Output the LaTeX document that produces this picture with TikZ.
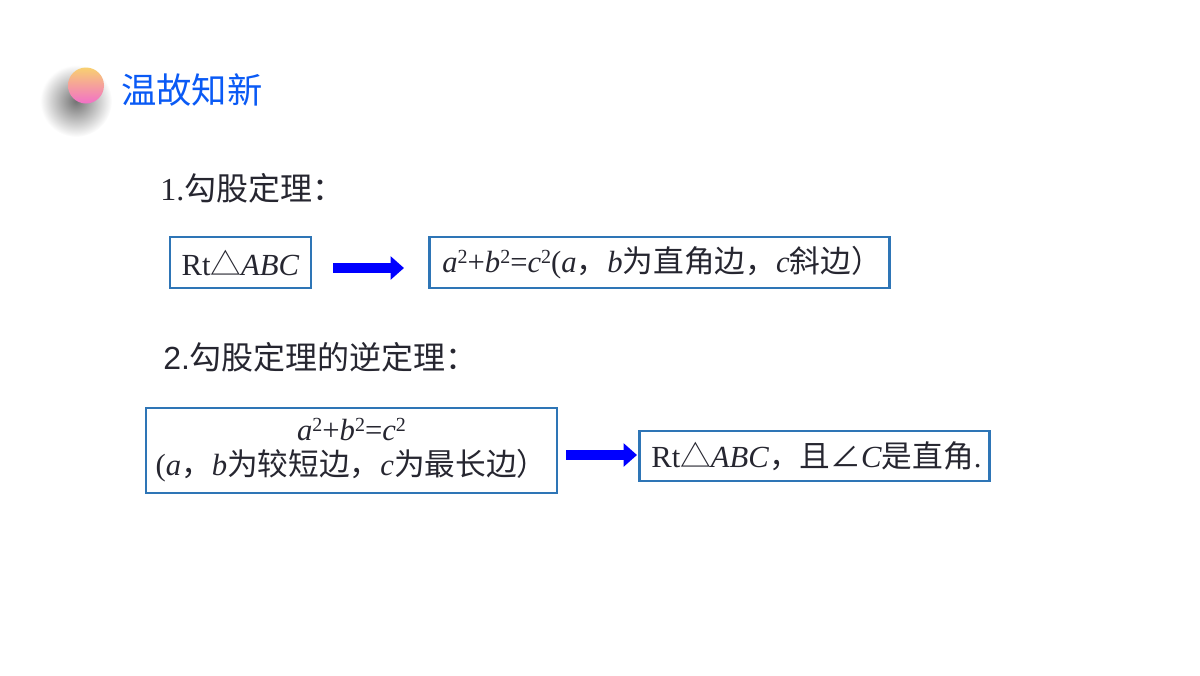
\documentclass[tikz,border=0pt]{standalone}
\usepackage{fontspec}
\setmainfont{Liberation Serif}
\newfontfamily\cjk{Noto Sans CJK SC}
\newfontfamily\arialf{Liberation Sans}
\usetikzlibrary{arrows.meta}
\definecolor{txt}{RGB}{38,38,48}
\definecolor{bord}{RGB}{46,117,182}
\definecolor{ttl}{RGB}{10,90,245}
\definecolor{ballTop}{RGB}{248,208,112}
\definecolor{ballBot}{RGB}{242,112,200}
\newcommand{\zh}[1]{{\cjk #1}}
\newcommand{\sq}{\raisebox{0.3em}{\fontsize{15}{15}\selectfont 2}}
\begin{document}
\begin{tikzpicture}[x=0.75pt,y=-0.75pt,
  box/.style={draw=bord,line width=2pt,text=txt,font=\fontsize{23}{26.25}\selectfont,inner sep=0pt},
  head/.style={anchor=west,text=txt,font=\fontsize{24}{28}\selectfont,inner sep=0pt},
  arr/.style={draw=blue,line width=7.5pt,-{Triangle[length=10pt,width=17pt]}}]
\useasboundingbox (0,0) rectangle (1200,675);
% title decoration
\shade[inner color=black!55,outer color=white] (76,101) circle (36);
\shade[top color=ballTop,bottom color=ballBot] (86,85.5) circle (18);
\node[anchor=west,text=ttl,font=\fontsize{26.5}{30}\selectfont\cjk,inner sep=0pt] (title) at (121,90) {温故知新};
% headings
\node[head] (h1) at (160,188) {1.\zh{勾股定理：}};
\node[head] (h2) at (163,357) {{\arialf 2.}\zh{勾股定理的逆定理：}};
% boxes row 1
\node[box,minimum width=105.75pt,minimum height=38.25pt] (b1) at (240.5,262.5) {Rt\zh{△}\textit{ABC}};
\node[box,anchor=west,minimum height=38.25pt,inner xsep=9.75pt,text width=325.5pt,align=left] (b2) at (428,262.5)
  {\textit{a}\sq+\textit{b}\sq=\textit{c}\sq(\textit{a}\zh{，}\textit{b}\zh{为直角边，}\textit{c}\zh{斜边）}};
% boxes row 2
\node[box,minimum width=308.25pt,minimum height=63.75pt,text width=300pt,align=center] (b3) at (351.5,450.5)
  {\textit{a}\sq+\textit{b}\sq=\textit{c}\sq\\(\textit{a}\zh{，}\textit{b}\zh{为较短边，}\textit{c}\zh{为最长边）}};
\node[box,anchor=west,minimum height=37.5pt,inner xsep=9pt,text width=244.5pt,align=left] (b4) at (638,456)
  {Rt\zh{△}\textit{ABC}\zh{，且∠}\textit{C}\zh{是直角}.};
% arrows
\coordinate (a1s) at (333,268);
\coordinate (a1e) at (404,268);
\coordinate (a2s) at (566,455);
\coordinate (a2e) at (637,455);
\draw[arr] (a1s) -- (a1e);
\draw[arr] (a2s) -- (a2e);
\end{tikzpicture}
\end{document}
